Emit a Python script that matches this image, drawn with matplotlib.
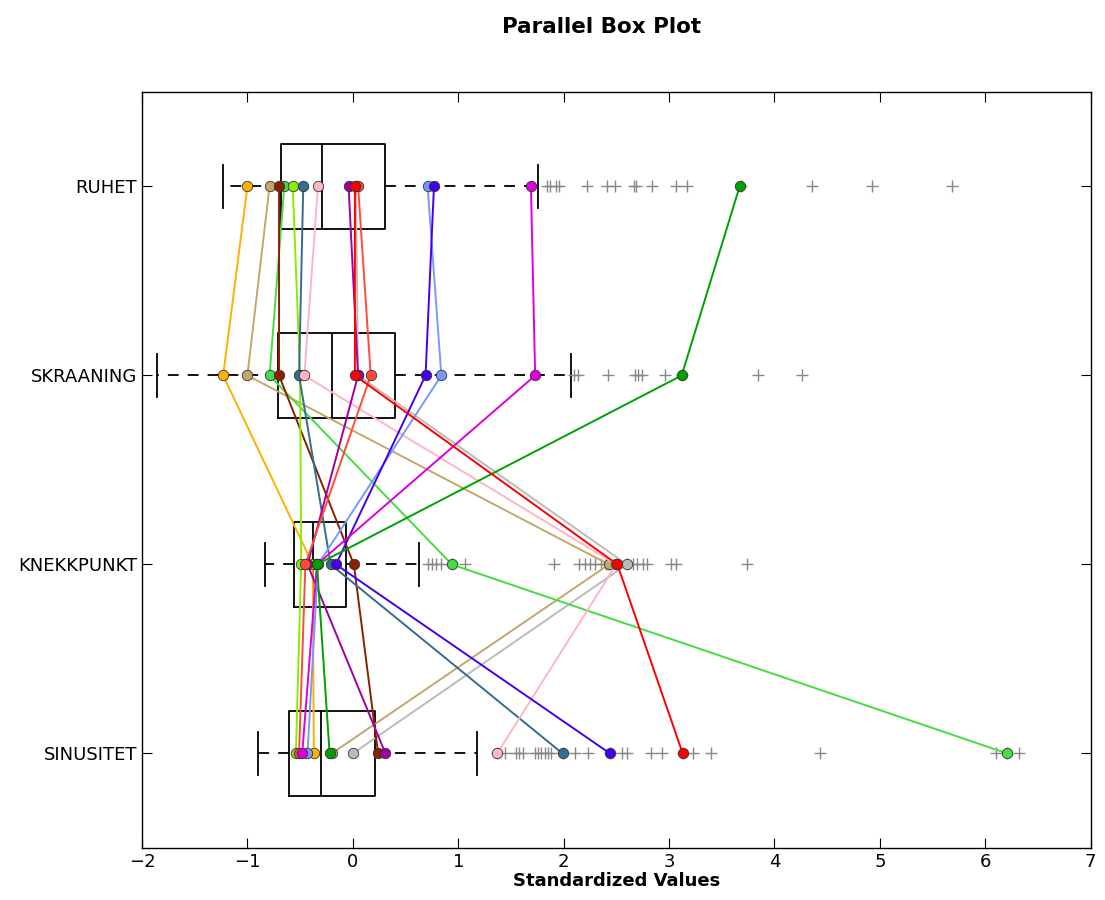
import numpy as np
import matplotlib
matplotlib.use("Agg")
import matplotlib.pyplot as plt

# ---------------------------------------------------------------- data
variables = ["RUHET", "SKRAANING", "KNEKKPUNKT", "SINUSITET"]
positions = [4, 3, 2, 1]

# box statistics per variable (standardized values)
q1 = [-0.68, -0.71, -0.56, -0.61]
med = [-0.29, -0.20, -0.38, -0.30]
q3 = [0.31, 0.40, -0.06, 0.21]
whis_lo = [-1.23, -1.86, -0.83, -0.90]
whis_hi = [1.76, 2.07, 0.63, 1.18]

fliers_ruhet = [1.84, 1.87, 1.93, 1.96, 2.22, 2.41, 2.49, 2.67, 2.69, 2.84,
                3.07, 3.17, 3.68, 4.36, 4.93, 5.68]
fliers_skraaning = [2.10, 2.14, 2.42, 2.68, 2.71, 2.74, 2.96, 3.12, 3.84, 4.26]
fliers_knekkpunkt = [0.71, 0.75, 0.79, 0.84, 0.94, 1.06, 1.91, 2.15, 2.20,
                     2.25, 2.30, 2.35, 2.40, 2.43, 2.51, 2.60, 2.66, 2.70,
                     2.75, 2.79, 3.02, 3.07, 3.74]
fliers_sinusitet = [1.37, 1.44, 1.55, 1.58, 1.61, 1.73, 1.76, 1.79, 1.82,
                    1.85, 1.88, 1.99, 2.11, 2.23, 2.44, 2.55, 2.60, 2.83,
                    2.93, 3.13, 3.23, 3.40, 4.43, 6.10, 6.21, 6.32]

# highlighted observations: values for RUHET, SKRAANING, KNEKKPUNKT, SINUSITET
obs_colors = ["#BBBBBB", "#FFB000", "#C4A86A", "#44DD44", "#8B2000",
              "#88EE00", "#336E8E", "#FFB6C1", "#A000A0", "#FF4A3A",
              "#7799FF", "#4400EE", "#DD00DD", "#00A000", "#FF0000"]
obs_values = [
    [0.03, 0.05, 2.60, 0.00],
    [-1.00, -1.23, -0.38, -0.37],
    [-0.79, -1.00, 2.43, -0.20],
    [-0.65, -0.79, 0.94, 6.21],
    [-0.70, -0.70, 0.01, 0.24],
    [-0.57, -0.50, -0.49, -0.54],
    [-0.47, -0.51, -0.21, 1.99],
    [-0.33, -0.46, 2.50, 1.37],
    [-0.04, 0.05, -0.43, 0.31],
    [0.05, 0.17, -0.45, -0.51],
    [0.71, 0.84, -0.33, -0.43],
    [0.77, 0.69, -0.16, 2.44],
    [1.69, 1.73, -0.34, -0.48],
    [3.67, 3.12, -0.34, -0.22],
    [0.02, 0.02, 2.51, 3.13],
]

# ---------------------------------------------------------------- plot
fig = plt.figure(figsize=(11.05, 9.0), dpi=100)
ax = fig.add_axes([0.1285, 0.0578, 0.8585, 0.84])

all_fliers = [fliers_ruhet, fliers_skraaning, fliers_knekkpunkt, fliers_sinusitet]
stats = []
for i, name in enumerate(variables):
    stats.append({"label": name, "q1": q1[i], "med": med[i], "q3": q3[i],
                  "whislo": whis_lo[i], "whishi": whis_hi[i],
                  "fliers": all_fliers[i]})

ax.bxp(stats, positions=positions, vert=False, widths=0.45,
       boxprops=dict(color="black", linewidth=1.3),
       medianprops=dict(color="black", linewidth=1.3),
       whiskerprops=dict(color="black", linewidth=1.3, linestyle=(0, (6, 5))),
       capprops=dict(color="black", linewidth=1.3),
       flierprops=dict(marker="+", markeredgecolor="#888888", markersize=8,
                       markeredgewidth=1.0, linestyle="none"))

for col, vals in zip(obs_colors, obs_values):
    ax.plot(vals, positions, "-o", color=col, linewidth=1.4, markersize=7.5,
            markeredgecolor="#333333", markeredgewidth=0.6, zorder=3)

ax.set_xlim(-2, 7)
ax.set_ylim(0.5, 4.5)
ax.set_yticks(positions)
ax.set_yticklabels(variables)
ax.tick_params(direction="in", top=True, right=True, length=7, labelsize=13)
for sp in ax.spines.values():
    sp.set_linewidth(1.0)

ax.set_xlabel("Standardized Values", fontsize=13, fontweight="bold", labelpad=1)
fig.suptitle("Parallel Box Plot", fontsize=15.5, fontweight="bold",
             x=0.544, y=0.981)

fig.savefig("out.png", dpi=100)
